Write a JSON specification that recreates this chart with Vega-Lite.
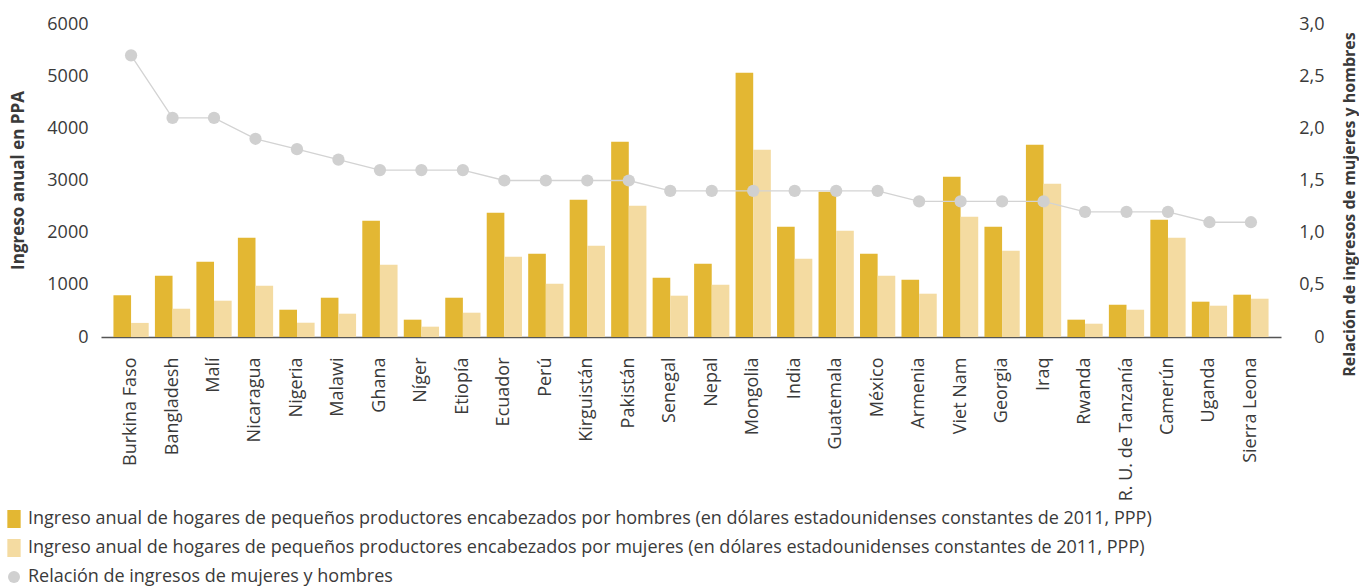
{
  "$schema": "https://vega.github.io/schema/vega-lite/v6.json",
  "width": 1180,
  "height": 313,
  "autosize": {"type": "none"},
  "padding": {"left": 101, "top": 24, "right": 78, "bottom": 249},
  "background": "white",
  "config": {
    "view": {"stroke": null},
    "font": "Open Sans",
    "axis": {"labelColor": "#3a3a3a", "titleColor": "#3a3a3a", "grid": false, "ticks": false, "labelFont": "Open Sans", "titleFont": "Open Sans"},
    "legend": {"labelFont": "Open Sans", "labelColor": "#3a3a3a"}
  },
  "datasets": {
    "barras": [
      {"pais": "Burkina Faso", "serie": "H", "valor": 800},
      {"pais": "Burkina Faso", "serie": "M", "valor": 270},
      {"pais": "Bangladesh", "serie": "H", "valor": 1175},
      {"pais": "Bangladesh", "serie": "M", "valor": 542},
      {"pais": "Malí", "serie": "H", "valor": 1443},
      {"pais": "Malí", "serie": "M", "valor": 696},
      {"pais": "Nicaragua", "serie": "H", "valor": 1903},
      {"pais": "Nicaragua", "serie": "M", "valor": 983},
      {"pais": "Nigeria", "serie": "H", "valor": 523},
      {"pais": "Nigeria", "serie": "M", "valor": 274},
      {"pais": "Malawi", "serie": "H", "valor": 753},
      {"pais": "Malawi", "serie": "M", "valor": 447},
      {"pais": "Ghana", "serie": "H", "valor": 2230},
      {"pais": "Ghana", "serie": "M", "valor": 1386},
      {"pais": "Níger", "serie": "H", "valor": 332},
      {"pais": "Níger", "serie": "M", "valor": 198},
      {"pais": "Etiopía", "serie": "H", "valor": 753},
      {"pais": "Etiopía", "serie": "M", "valor": 466},
      {"pais": "Ecuador", "serie": "H", "valor": 2383},
      {"pais": "Ecuador", "serie": "M", "valor": 1540},
      {"pais": "Perú", "serie": "H", "valor": 1597},
      {"pais": "Perú", "serie": "M", "valor": 1022},
      {"pais": "Kirguistán", "serie": "H", "valor": 2632},
      {"pais": "Kirguistán", "serie": "M", "valor": 1750},
      {"pais": "Pakistán", "serie": "H", "valor": 3744},
      {"pais": "Pakistán", "serie": "M", "valor": 2517},
      {"pais": "Senegal", "serie": "H", "valor": 1137},
      {"pais": "Senegal", "serie": "M", "valor": 792},
      {"pais": "Nepal", "serie": "H", "valor": 1405},
      {"pais": "Nepal", "serie": "M", "valor": 1003},
      {"pais": "Mongolia", "serie": "H", "valor": 5066},
      {"pais": "Mongolia", "serie": "M", "valor": 3590},
      {"pais": "India", "serie": "H", "valor": 2115},
      {"pais": "India", "serie": "M", "valor": 1501},
      {"pais": "Guatemala", "serie": "H", "valor": 2786},
      {"pais": "Guatemala", "serie": "M", "valor": 2038},
      {"pais": "México", "serie": "H", "valor": 1597},
      {"pais": "México", "serie": "M", "valor": 1175},
      {"pais": "Armenia", "serie": "H", "valor": 1099},
      {"pais": "Armenia", "serie": "M", "valor": 830},
      {"pais": "Viet Nam", "serie": "H", "valor": 3074},
      {"pais": "Viet Nam", "serie": "M", "valor": 2306},
      {"pais": "Georgia", "serie": "H", "valor": 2115},
      {"pais": "Georgia", "serie": "M", "valor": 1654},
      {"pais": "Iraq", "serie": "H", "valor": 3687},
      {"pais": "Iraq", "serie": "M", "valor": 2939},
      {"pais": "Rwanda", "serie": "H", "valor": 332},
      {"pais": "Rwanda", "serie": "M", "valor": 255},
      {"pais": "R. U. de Tanzanía", "serie": "H", "valor": 619},
      {"pais": "R. U. de Tanzanía", "serie": "M", "valor": 523},
      {"pais": "Camerún", "serie": "H", "valor": 2249},
      {"pais": "Camerún", "serie": "M", "valor": 1903},
      {"pais": "Uganda", "serie": "H", "valor": 677},
      {"pais": "Uganda", "serie": "M", "valor": 600},
      {"pais": "Sierra Leona", "serie": "H", "valor": 811},
      {"pais": "Sierra Leona", "serie": "M", "valor": 734}
    ],
    "relacion": [
      {"pais": "Burkina Faso", "relacion": 2.7, "serie": "Relación de ingresos de mujeres y hombres"},
      {"pais": "Bangladesh", "relacion": 2.1, "serie": "Relación de ingresos de mujeres y hombres"},
      {"pais": "Malí", "relacion": 2.1, "serie": "Relación de ingresos de mujeres y hombres"},
      {"pais": "Nicaragua", "relacion": 1.9, "serie": "Relación de ingresos de mujeres y hombres"},
      {"pais": "Nigeria", "relacion": 1.8, "serie": "Relación de ingresos de mujeres y hombres"},
      {"pais": "Malawi", "relacion": 1.7, "serie": "Relación de ingresos de mujeres y hombres"},
      {"pais": "Ghana", "relacion": 1.6, "serie": "Relación de ingresos de mujeres y hombres"},
      {"pais": "Níger", "relacion": 1.6, "serie": "Relación de ingresos de mujeres y hombres"},
      {"pais": "Etiopía", "relacion": 1.6, "serie": "Relación de ingresos de mujeres y hombres"},
      {"pais": "Ecuador", "relacion": 1.5, "serie": "Relación de ingresos de mujeres y hombres"},
      {"pais": "Perú", "relacion": 1.5, "serie": "Relación de ingresos de mujeres y hombres"},
      {"pais": "Kirguistán", "relacion": 1.5, "serie": "Relación de ingresos de mujeres y hombres"},
      {"pais": "Pakistán", "relacion": 1.5, "serie": "Relación de ingresos de mujeres y hombres"},
      {"pais": "Senegal", "relacion": 1.4, "serie": "Relación de ingresos de mujeres y hombres"},
      {"pais": "Nepal", "relacion": 1.4, "serie": "Relación de ingresos de mujeres y hombres"},
      {"pais": "Mongolia", "relacion": 1.4, "serie": "Relación de ingresos de mujeres y hombres"},
      {"pais": "India", "relacion": 1.4, "serie": "Relación de ingresos de mujeres y hombres"},
      {"pais": "Guatemala", "relacion": 1.4, "serie": "Relación de ingresos de mujeres y hombres"},
      {"pais": "México", "relacion": 1.4, "serie": "Relación de ingresos de mujeres y hombres"},
      {"pais": "Armenia", "relacion": 1.3, "serie": "Relación de ingresos de mujeres y hombres"},
      {"pais": "Viet Nam", "relacion": 1.3, "serie": "Relación de ingresos de mujeres y hombres"},
      {"pais": "Georgia", "relacion": 1.3, "serie": "Relación de ingresos de mujeres y hombres"},
      {"pais": "Iraq", "relacion": 1.3, "serie": "Relación de ingresos de mujeres y hombres"},
      {"pais": "Rwanda", "relacion": 1.2, "serie": "Relación de ingresos de mujeres y hombres"},
      {"pais": "R. U. de Tanzanía", "relacion": 1.2, "serie": "Relación de ingresos de mujeres y hombres"},
      {"pais": "Camerún", "relacion": 1.2, "serie": "Relación de ingresos de mujeres y hombres"},
      {"pais": "Uganda", "relacion": 1.1, "serie": "Relación de ingresos de mujeres y hombres"},
      {"pais": "Sierra Leona", "relacion": 1.1, "serie": "Relación de ingresos de mujeres y hombres"}
    ]
  },
  "encoding": {
    "x": {
      "field": "pais",
      "type": "nominal",
      "sort": null,
      "scale": {"paddingInner": 0.15, "paddingOuter": 0.3},
      "axis": {
        "title": null,
        "labelAngle": 270,
        "labelAlign": "right",
        "labelBaseline": "middle",
        "labelPadding": 20,
        "labelFontSize": 18,
        "domainColor": "#555555",
        "domainWidth": 1.5
      }
    }
  },
  "layer": [
    {
      "data": {"name": "barras"},
      "mark": {"type": "bar"},
      "encoding": {
        "xOffset": {"field": "serie", "type": "nominal", "scale": {"paddingInner": 0, "paddingOuter": 0}},
        "y": {
          "field": "valor",
          "type": "quantitative",
          "scale": {"domain": [0, 6000], "nice": false},
          "axis": {
            "title": "Ingreso anual en PPA",
            "values": [0, 1000, 2000, 3000, 4000, 5000, 6000],
            "format": "d",
            "domain": false,
            "labelFontSize": 18,
            "labelPadding": 13,
            "titleFontSize": 17,
            "titleFontWeight": "bold",
            "titleAngle": 270,
            "titleX": -83,
            "titleY": 156,
            "titleAlign": "center",
            "titleBaseline": "middle"
          }
        },
        "color": {
          "field": "serie",
          "type": "nominal",
          "scale": {"domain": ["H", "M"], "range": ["#E3B733", "#F4DBA1"]},
          "legend": {
            "title": null,
            "orient": "none",
            "legendX": -96,
            "legendY": 486,
            "direction": "vertical",
            "symbolType": "M-0.74,-1H0.74V1H-0.74Z",
            "symbolSize": 324,
            "symbolStrokeWidth": 0,
            "labelFontSize": 18,
            "labelOffset": 5,
            "rowPadding": 11,
            "padding": 0,
            "labelLimit": 1300,
            "labelExpr": "datum.value == 'H' ? 'Ingreso anual de hogares de pequeños productores encabezados por hombres (en dólares estadounidenses constantes de 2011, PPP)' : 'Ingreso anual de hogares de pequeños productores encabezados por mujeres (en dólares estadounidenses constantes de 2011, PPP)'"
          }
        }
      }
    },
    {
      "data": {"name": "relacion"},
      "layer": [
        {
          "mark": {"type": "line", "color": "#D3D3D3", "strokeWidth": 1.3},
          "encoding": {
            "y": {
              "field": "relacion",
              "type": "quantitative",
              "scale": {"domain": [0, 3], "nice": false},
              "axis": {
                "orient": "right",
                "title": "Relación de ingresos de mujeres y hombres",
                "values": [0, 0.5, 1, 1.5, 2, 2.5, 3],
                "labelExpr": "datum.value == 0 ? '0' : replace(format(datum.value, '.1f'), '.', ',')",
                "domain": false,
                "labelFontSize": 18,
                "labelAlign": "right",
                "labelPadding": 43,
                "titleFontSize": 16,
                "titleFontWeight": "bold",
                "titleAngle": 270,
                "titleX": 68,
                "titleY": 180,
                "titleAlign": "center",
                "titleBaseline": "middle"
              }
            }
          }
        },
        {
          "mark": {"type": "point", "filled": true, "opacity": 1, "size": 150},
          "encoding": {
            "y": {"field": "relacion", "type": "quantitative"},
            "color": {
              "field": "serie",
              "type": "nominal",
              "scale": {"range": ["#D0D0D0"]},
              "legend": {
                "title": null,
                "orient": "none",
                "legendX": -96,
                "legendY": 544,
                "symbolType": "circle",
                "symbolSize": 144,
                "symbolStrokeWidth": 0,
                "labelFontSize": 18,
                "labelOffset": 5,
                "padding": 0,
                "labelLimit": 1300
              }
            }
          }
        }
      ]
    }
  ],
  "resolve": {"scale": {"y": "independent", "color": "independent"}}
}
